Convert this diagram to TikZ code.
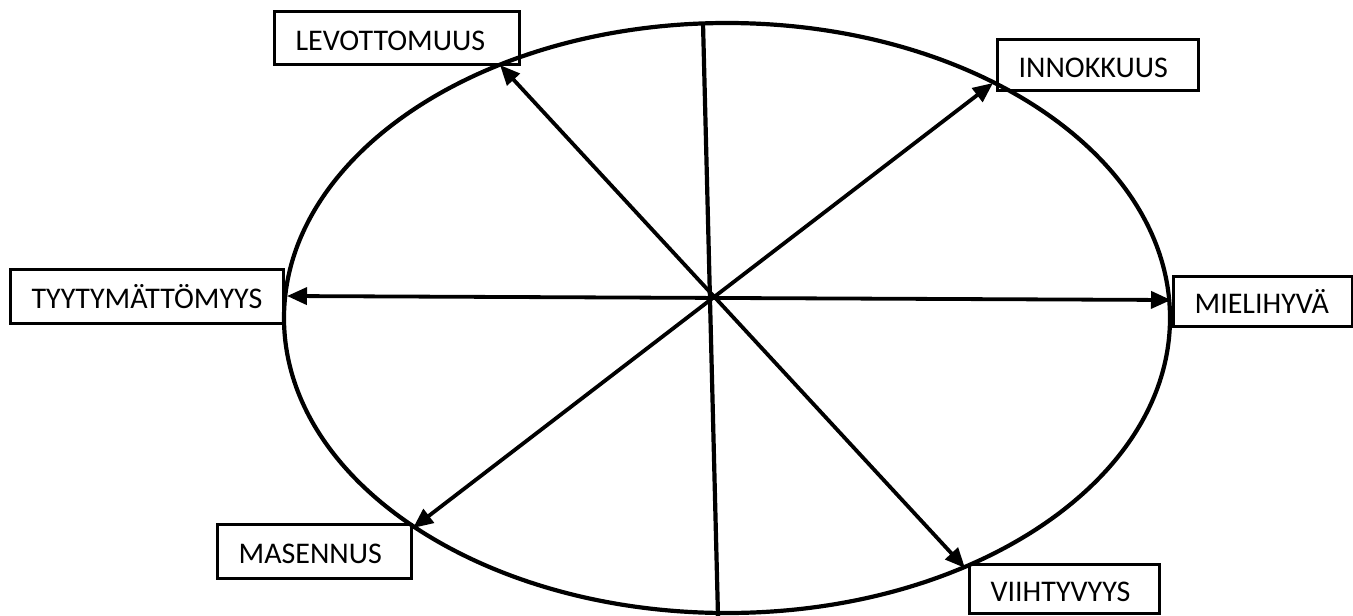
\documentclass[tikz,border=0pt]{standalone}
\usepackage{fontspec}
\setmainfont{Carlito}
\usetikzlibrary{arrows.meta}

\tikzset{every picture/.style={line width=4.2pt}}
\tikzset{
  moodbox/.style={draw, line width=3.2pt, anchor=north west, inner xsep=21pt, inner ysep=0pt,
    text height=24pt, text depth=0pt, align=left, font=\fontsize{30}{36}\selectfont},
  moodarrow/.style={line width=3.8pt, {Triangle[length=20pt,width=17pt]}-{Triangle[length=20pt,width=17pt]}}
}

\begin{document}
\begin{tikzpicture}[x=1pt,y=1pt,yscale=-1,xscale=1]
\useasboundingbox (0,0) rectangle (1353,616);

%Ellipse
\draw (727,318) ellipse [x radius=443, y radius=295];
%Straight Lines (vertical axis)
\coordinate (axtop) at (703,23);
\coordinate (axbot) at (718,616);
\draw (axtop) -- (axbot);

% Text Node
\node (lev) [moodbox, minimum width=245, minimum height=53, text width=203] at (273,10) {LEVOTTOMUUS};
% Text Node
\node (inn) [moodbox, minimum width=201, minimum height=51, text width=159] at (996,38) {INNOKKUUS};
% Text Node
\node (tyy) [moodbox, minimum width=273, minimum height=54, text width=231] at (9,268) {TYYTYMÄTTÖMYYS};
% Text Node
\node (mie) [moodbox, minimum width=179, minimum height=50, text width=137] at (1172,275) {MIELIHYVÄ};
% Text Node
\node (mas) [moodbox, minimum width=194, minimum height=54, text width=152] at (216,523) {MASENNUS};
% Text Node
\node (vii) [moodbox, minimum width=190, minimum height=49, text width=148] at (968,563) {VIIHTYVYYS};

% arrow tips on the ellipse
\coordinate (levtip) at (500,65);
\coordinate (inntip) at (993,83);
\coordinate (tyytip) at (287,296);
\coordinate (mietip) at (1171,300);
\coordinate (mastip) at (413,528);
\coordinate (viitip) at (965,568);

%Straight Lines
\draw [moodarrow] (tyytip) -- (mietip);
\draw [moodarrow] (levtip) -- (viitip);
\draw [moodarrow] (inntip) -- (mastip);

\end{tikzpicture}
\end{document}
